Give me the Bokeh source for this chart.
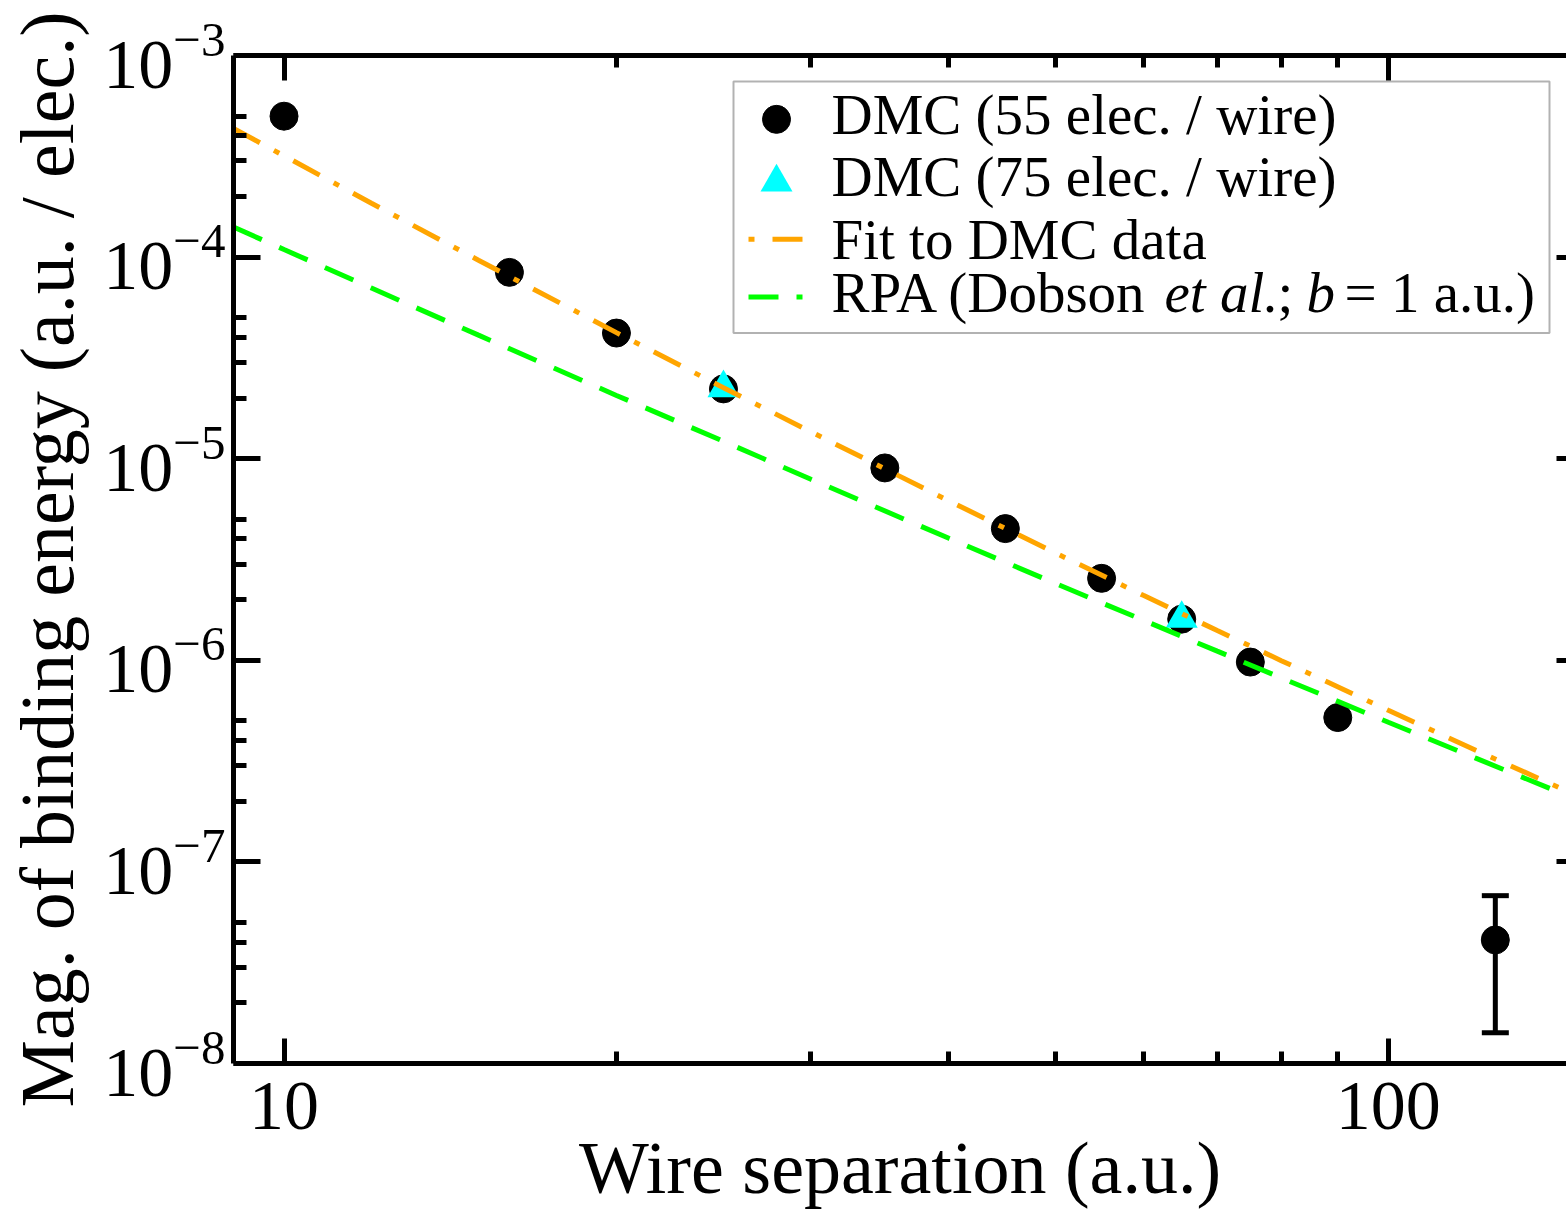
import math
from bokeh.plotting import figure
from bokeh.models import (Range1d, LogAxis, FixedTicker, Label, BoxAnnotation,
                          Whisker, TeeHead, ColumnDataSource, PrintfTickFormatter,
                          LogTickFormatter)
from bokeh.embed import file_html
from bokeh.resources import INLINE

# ---------------- data ----------------
dmc55_sep = [10, 16, 20, 25, 35, 45, 55, 65, 75, 90, 125]
dmc55_E = [5.0e-4, 8.4e-5, 4.2e-5, 2.22e-5, 9.0e-6, 4.5e-6, 2.55e-6, 1.6e-6, 9.8e-7, 5.2e-7, 4.1e-8]

dmc75_sep = [25, 65]
dmc75_E = [2.24e-5, 1.61e-6]

err_sep = [125]
err_lower = [1.42e-8]
err_upper = [6.8e-8]

fit_sep = [9, 10, 12, 15, 20, 25, 30, 40, 50, 60, 70, 80, 100, 120, 145]
fit_E = [4.35e-4, 3.18e-4, 1.85e-4, 9.65e-5, 4.22e-5, 2.25e-5, 1.36e-5, 6.18e-6,
         3.40e-6, 2.10e-6, 1.405e-6, 9.96e-7, 5.65e-7, 3.58e-7, 2.25e-7]

rpa_sep = [9, 10, 12, 15, 20, 25, 30, 40, 50, 60, 70, 80, 100, 120, 145]
rpa_E = [1.41e-4, 1.09e-4, 7.02e-5, 4.10e-5, 2.06e-5, 1.22e-5, 7.91e-6, 4.03e-6,
         2.40e-6, 1.58e-6, 1.11e-6, 8.18e-7, 4.93e-7, 3.27e-7, 2.14e-7]

x_major = [10, 100]
x_minor = [20, 30, 40, 50, 60, 70, 80, 90]
y_major = [1e-8, 1e-7, 1e-6, 1e-5, 1e-4, 1e-3]
y_minor = [m * 10.0 ** k for k in range(-8, -3) for m in (2, 3, 4, 5)]

legend_labels = ["DMC (55 elec. / wire)", "DMC (75 elec. / wire)", "Fit to DMC data"]
xlabel = "Wire separation (a.u.)"
ylabel = "Mag. of binding energy (a.u. / elec.)"

# ---------------- layout ----------------
W, H = 1566, 1211
FL, FR, FT, FB = 233, 1566, 55, 1065
XMIN, XMAX = 9, 145
YMIN, YMAX = 1e-8, 1e-3
LX0, LX1 = math.log10(XMIN), math.log10(XMAX)
LY0, LY1 = math.log10(YMIN), math.log10(YMAX)


def X(px):
    return 10 ** (LX0 + (px - FL) / (FR - FL) * (LX1 - LX0))


def Y(py):
    return 10 ** (LY1 - (py - FT) / (FB - FT) * (LY1 - LY0))


FONT = "Liberation Serif"

p = figure(width=W, height=H, x_axis_type="log", y_axis_type="log",
           x_range=Range1d(XMIN, XMAX), y_range=Range1d(YMIN, YMAX),
           output_backend="svg", toolbar_location=None,
           min_border_left=FL, min_border_right=0, min_border_top=FT,
           min_border_bottom=H - FB)
p.outline_line_color = None
p.xgrid.visible = False
p.ygrid.visible = False
p.background_fill_color = "white"
p.border_fill_color = "white"


def style_axis(ax, ticks, minor, tin, min_in, line=True, show_minor=True,
               labels=False):
    ax.ticker = FixedTicker(ticks=ticks, minor_ticks=minor)
    if labels:
        ax.major_label_text_font = FONT
        ax.major_label_text_font_size = "70px"
        ax.major_label_text_color = "black"
    else:
        ax.major_label_text_font_size = "1px"
        ax.major_label_text_color = None
        ax.major_label_standoff = 0
    ax.axis_line_width = 5
    ax.axis_line_color = "black" if line else None
    ax.major_tick_in = tin
    ax.major_tick_out = 0
    ax.major_tick_line_width = 5
    ax.minor_tick_in = min_in
    ax.minor_tick_out = 0
    ax.minor_tick_line_width = 5
    if not show_minor:
        ax.minor_tick_line_color = None


xb = p.xaxis[0]
style_axis(xb, x_major, x_minor, 25, 12, labels=True)
xb.formatter = PrintfTickFormatter(format="%d")
xb.major_label_standoff = 19
xb.axis_label = xlabel
xb.axis_label_text_font = FONT
xb.axis_label_text_font_size = "74px"
xb.axis_label_text_font_style = "normal"
xb.axis_label_text_color = "black"
xb.axis_label_standoff = -5

yl = p.yaxis[0]
style_axis(yl, y_major, y_minor, 27, 13, labels=True)
yl.formatter = LogTickFormatter()
yl.major_label_standoff = 8
yl.axis_label = ylabel
yl.axis_label_text_font = FONT
yl.axis_label_text_font_size = "76px"
yl.axis_label_text_font_style = "normal"
yl.axis_label_text_color = "black"
yl.axis_label_standoff = 11

top = LogAxis()
style_axis(top, x_major, x_minor, 25, 12)
p.add_layout(top, "above")
right = LogAxis()
style_axis(right, y_major, y_minor, 10, 1, line=False, show_minor=False)
p.add_layout(right, "right")

# ---------------- data glyphs ----------------
err_src = ColumnDataSource(dict(base=err_sep, lower=err_lower, upper=err_upper))
p.add_layout(Whisker(source=err_src, base="base", lower="lower", upper="upper",
                     dimension="height", line_width=5, line_color="black",
                     upper_head=TeeHead(size=27, line_width=5, line_color="black"),
                     lower_head=TeeHead(size=27, line_width=5, line_color="black"),
                     level="underlay"))

p.scatter(dmc55_sep, dmc55_E, marker="circle", size=28, fill_color="black",
          line_color="black")
p.scatter(dmc75_sep, dmc75_E, marker="triangle", size=32, fill_color="cyan",
          line_color=None)
p.line(fit_sep, fit_E, line_color="#FFA500", line_width=5, line_dash="30 16 6 16")
p.line(rpa_sep, rpa_E, line_color="#00FF00", line_width=5, line_dash="31 19")

# text placed by canvas pixels (rendered baseline sits ~19px below the given y)
DY = -19


def ctext(x, y, text, size, align="left", style="normal"):
    p.add_layout(Label(x=x, y=y + DY, x_units="canvas", y_units="canvas", text=text,
                       text_align=align, text_baseline="alphabetic",
                       text_font=FONT, text_font_size=size,
                       text_font_style=style, text_color="black"))


# ---------------- legend ----------------
p.add_layout(BoxAnnotation(left=X(733), right=X(1549), top=Y(81), bottom=Y(333),
                           fill_alpha=0, line_color="black", line_width=2,
                           level="overlay"))
p.scatter([X(776)], [Y(119)], marker="circle", size=28, fill_color="black",
          line_color="black")
p.scatter([X(776)], [Y(182)], marker="triangle", size=32, fill_color="cyan",
          line_color=None)
p.line([X(748), X(802)], [Y(239), Y(239)], line_color="#FFA500", line_width=5,
       line_dash="6 18 30")
p.line([X(748), X(802)], [Y(297), Y(297)], line_color="#00FF00", line_width=5,
       line_dash="30 18")

baselines = [133, 195, 258]
for lab, b in zip(legend_labels, baselines):
    ctext(831, b, lab, "57px")

rpa_parts = [("RPA (Dobson", "normal", 831), ("et al.", "italic", 1164),
             (";", "normal", 1277), ("b", "italic", 1306),
             ("= 1 a.u.)", "normal", 1344)]
for txt, style, xp in rpa_parts:
    ctext(xp, 311, txt, "57px", style=style)

open("out.html", "w").write(file_html(p, INLINE))
